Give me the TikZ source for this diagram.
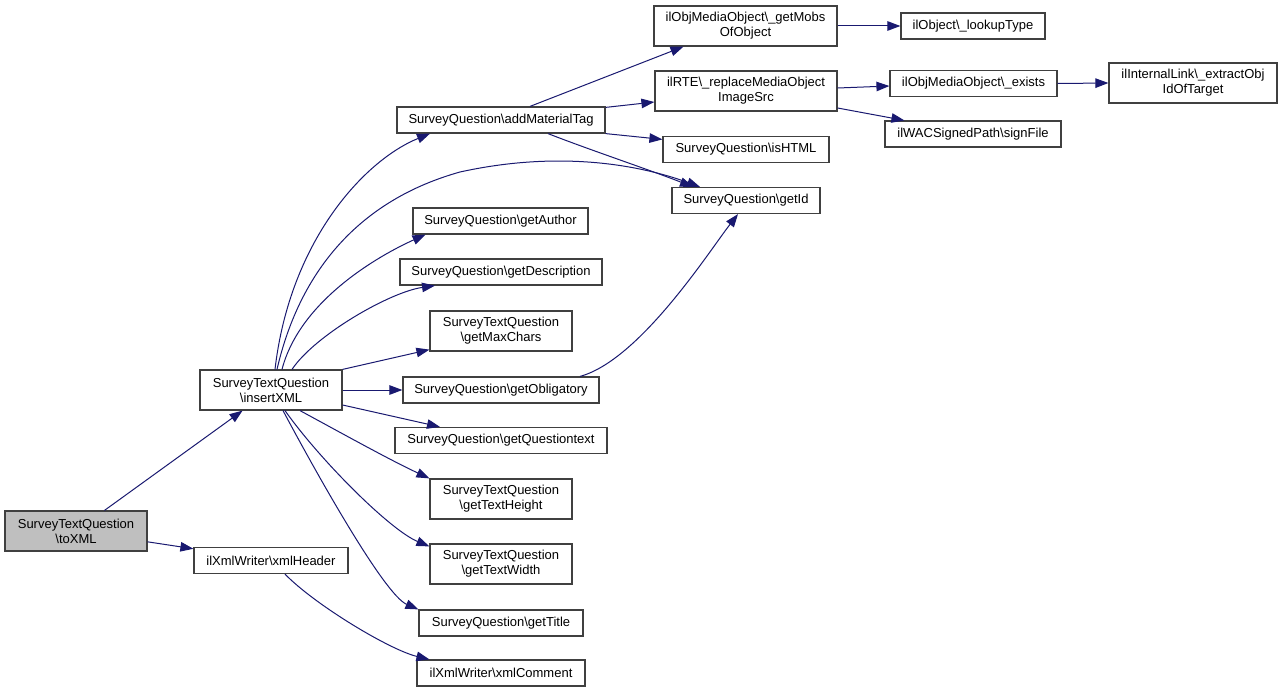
\documentclass[tikz,border=0pt]{standalone}
\usepackage{fontspec}
\setmainfont{Liberation Sans}
\usetikzlibrary{arrows.meta,calc}
\definecolor{edgecol}{HTML}{191970}
\definecolor{boxline}{HTML}{404040}
\definecolor{grayfill}{HTML}{BFBFBF}
\begin{document}
\begin{tikzpicture}[x=1pt,y=-1pt,
 fn/.style={draw=boxline, line width=1.2pt, fill=white, inner sep=0pt, align=center, font=\fontsize{13}{15}\selectfont},
 sz/.style 2 args={minimum width=#1pt, minimum height=#2pt},
 call/.style={draw=edgecol, line width=1pt, -{Triangle[length=13pt,width=9.5pt]}},
]
\useasboundingbox[fill=white] (0,0) rectangle (1281,693);
\node[fn,sz={142}{40},fill=grayfill] (toXML) at (76,531) {SurveyTextQuestion\\\textbackslash toXML};
\node[fn,sz={142}{40}] (insertXML) at (271,390) {SurveyTextQuestion\\\textbackslash insertXML};
\node[fn,sz={154}{26}] (xmlHeader) at (271,560.5) {ilXmlWriter\textbackslash xmlHeader};
\node[fn,sz={208}{26}] (addMat) at (501,120) {SurveyQuestion\textbackslash addMaterialTag};
\node[fn,sz={175}{26}] (getAuthor) at (500.5,221) {SurveyQuestion\textbackslash getAuthor};
\node[fn,sz={202}{26}] (getDesc) at (501,272) {SurveyQuestion\textbackslash getDescription};
\node[fn,sz={142}{40}] (getMaxChars) at (501,331) {SurveyTextQuestion\\\textbackslash getMaxChars};
\node[fn,sz={196}{26}] (getObl) at (501,390) {SurveyQuestion\textbackslash getObligatory};
\node[fn,sz={212}{26}] (getQT) at (501,440.5) {SurveyQuestion\textbackslash getQuestiontext};
\node[fn,sz={142}{40}] (getTH) at (501,499) {SurveyTextQuestion\\\textbackslash getTextHeight};
\node[fn,sz={142}{40}] (getTW) at (501,564) {SurveyTextQuestion\\\textbackslash getTextWidth};
\node[fn,sz={164}{26}] (getTitle) at (501,623) {SurveyQuestion\textbackslash getTitle};
\node[fn,sz={168}{26}] (xmlComment) at (501,673) {ilXmlWriter\textbackslash xmlComment};
\node[fn,sz={183}{40}] (getMobs) at (745.5,26) {ilObjMediaObject\textbackslash\_getMobs\\OfObject};
\node[fn,sz={182}{40}] (ilRTE) at (746,91) {ilRTE\textbackslash\_replaceMediaObject\\ImageSrc};
\node[fn,sz={166}{26}] (isHTML) at (746,149.5) {SurveyQuestion\textbackslash isHTML};
\node[fn,sz={148}{26}] (getId) at (746,200.5) {SurveyQuestion\textbackslash getId};
\node[fn,sz={144}{26}] (lookupType) at (973,26) {ilObject\textbackslash\_lookupType};
\node[fn,sz={167}{26}] (exists) at (973.5,83.5) {ilObjMediaObject\textbackslash\_exists};
\node[fn,sz={176}{26}] (signFile) at (973,134) {ilWACSignedPath\textbackslash signFile};
\node[fn,sz={168}{40}] (extract) at (1193,83) {ilInternalLink\textbackslash\_extractObj\\IdOfTarget};

\draw[call] (toXML) -- (insertXML);
\draw[call] (toXML) -- (xmlHeader);
\draw[call] ($(insertXML.north)+(4,0)$) .. controls (290,240) and (365,160) .. ($(addMat.south)+(-71,0)$);
\draw[call] ($(insertXML.north)+(6,0)$) .. controls (300,270) and (360,200) .. (460,172) .. controls (560,150) and (640,165) .. ($(getId.north)+(-46,0)$);
\draw[call] ($(insertXML.north)+(11,0)$) .. controls (300,300) and (380,255) .. ($(getAuthor.south)+(-75,0)$);
\draw[call] ($(insertXML.north)+(21,0)$) .. controls (315,335) and (390,292) .. ($(getDesc.south)+(-66,0)$);
\draw[call] (insertXML.north east) -- ($(getMaxChars.south west)+(0,-2)$);
\draw[call] (insertXML.east) -- (getObl.west);
\draw[call] ($(insertXML.east)+(0,15)$) -- ($(getQT.north)+(-61,0)$);
\draw[call] ($(insertXML.south)+(29,0)$) .. controls (345,435) and (390,460) .. (getTH.north west);
\draw[call] ($(insertXML.south)+(14,0)$) .. controls (320,460) and (390,530) .. ($(getTW.north west)+(0,3)$);
\draw[call] ($(insertXML.south)+(12,0)$) .. controls (320,480) and (385,595) .. (getTitle.north west);
\draw[call] ($(xmlHeader.south)+(14,0)$) .. controls (315,605) and (390,650) .. ($(xmlComment.north west)+(13,0)$);
\draw[call] ($(addMat.north)+(29,0)$) -- ($(getMobs.south)+(-62,0)$);
\draw[call] ($(addMat.north east)+(0,1)$) -- ($(ilRTE.west)+(0,11)$);
\draw[call] (addMat.south east) -- ($(isHTML.north west)+(0,3.5)$);
\draw[call] ($(addMat.south)+(47,0)$) .. controls (590,150) and (650,170) .. ($(getId.north)+(-53,0)$);
\draw[call] ($(getObl.north)+(79,0)$) .. controls (640,360) and (710,250) .. ($(getId.south)+(-8,0)$);
\draw[call] (getMobs.east) -- (lookupType.west);
\draw[call] ($(ilRTE.east)+(0,-3)$) -- ($(exists.west)+(0,2.5)$);
\draw[call] ($(ilRTE.east)+(0,17)$) -- ($(signFile.north west)+(20,0)$);
\draw[call] (exists.east) -- (extract.west);
\end{tikzpicture}
\end{document}
